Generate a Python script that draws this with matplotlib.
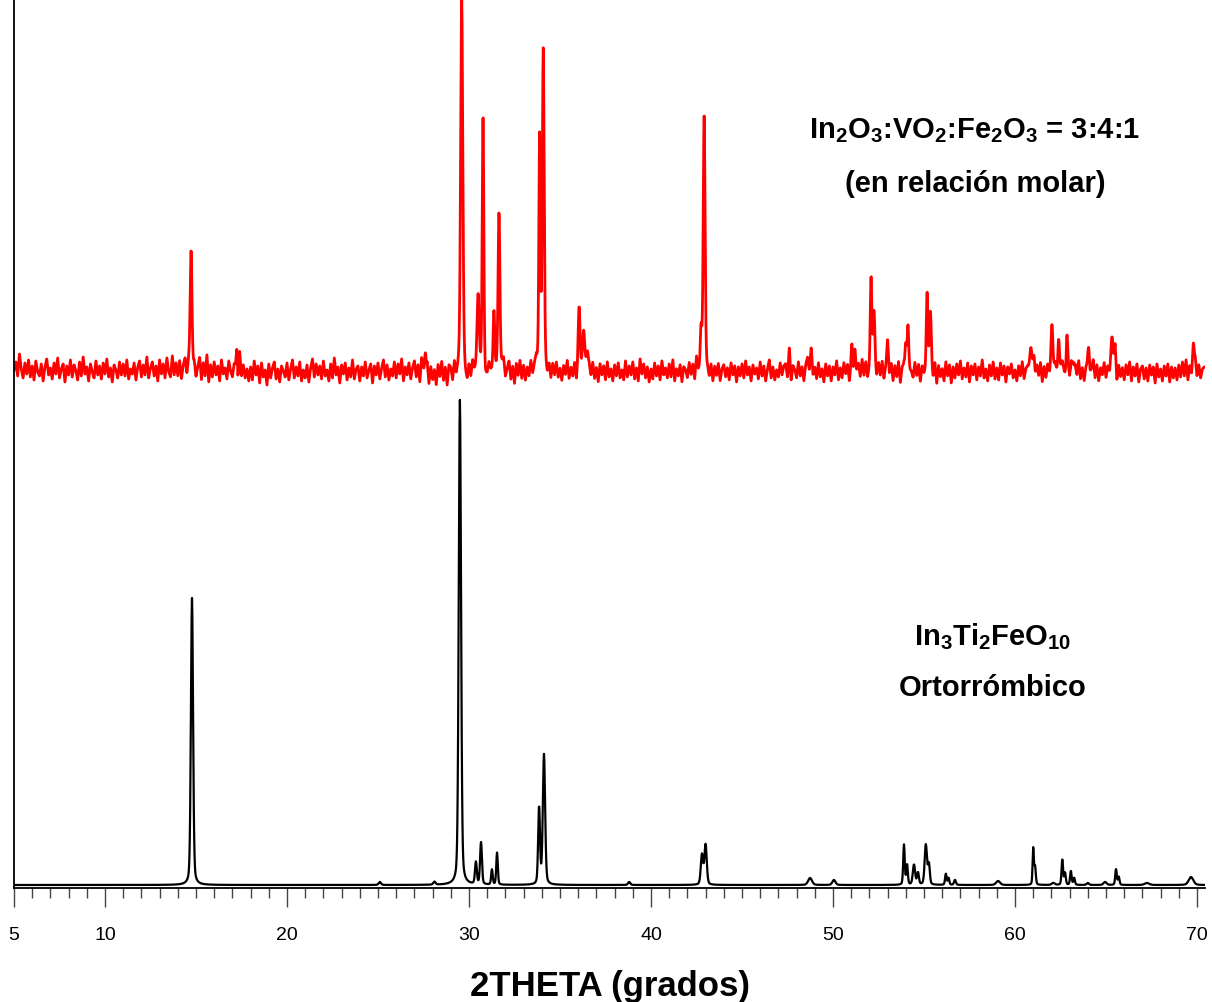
import numpy as np
import matplotlib
matplotlib.use("Agg")
import matplotlib.pyplot as plt
from matplotlib.ticker import FixedLocator, MultipleLocator

plt.rcParams['font.family'] = ['Liberation Sans', 'DejaVu Sans']
plt.rcParams['mathtext.fontset'] = 'custom'
plt.rcParams['mathtext.rm'] = 'Liberation Sans:bold'
plt.rcParams['mathtext.it'] = 'Liberation Sans:bold'
plt.rcParams['mathtext.bf'] = 'Liberation Sans:bold'

# peak tables: 2theta, height (a.u.), fwhm (deg)
black_pos = [14.78, 25.1, 28.1, 29.5, 30.38, 30.66, 31.26, 31.54, 33.85, 34.12,
             38.8, 42.8, 43.0, 48.74, 50.05, 53.9, 54.07, 54.45, 54.67, 55.1,
             55.27, 56.2, 56.35, 56.7, 59.07, 61.0, 61.1, 62.1, 62.6, 62.75,
             63.07, 63.25, 64.0, 64.95, 65.55, 65.7, 67.25, 69.67]
black_h = [287, 3, 3, 485, 22, 42, 15, 32, 77, 130,
           3, 30, 40, 7, 5, 40, 20, 20, 12, 40,
           20, 11, 7, 5, 4, 36, 18, 2, 25, 12,
           14, 7, 2, 3, 16, 8, 2, 8]
black_w = [0.14, 0.15, 0.15, 0.15, 0.12, 0.12, 0.1, 0.1, 0.12, 0.15,
           0.15, 0.15, 0.15, 0.25, 0.2, 0.1, 0.1, 0.15, 0.12, 0.15,
           0.12, 0.1, 0.1, 0.12, 0.25, 0.08, 0.1, 0.2, 0.1, 0.1,
           0.1, 0.1, 0.15, 0.2, 0.1, 0.1, 0.3, 0.3]
black_base = 3

red_pos = [14.73, 17.25, 27.6, 29.6, 30.5, 30.77, 31.37, 31.65, 33.88, 34.08,
           36.05, 36.3, 36.5, 42.75, 42.92, 47.6, 48.8, 51.04, 51.2, 52.09,
           52.25, 53.0, 54.0, 54.12, 55.17, 55.35, 60.88, 61.05, 62.03, 62.4,
           62.85, 63.2, 64.05, 65.33, 65.5, 69.8]
red_h = [124, 25, 25, 372, 75, 255, 60, 165, 232, 320,
         65, 40, 25, 40, 255, 20, 18, 28, 22, 95,
         60, 20, 35, 45, 80, 60, 28, 18, 48, 38,
         38, 18, 22, 35, 18, 20]
red_w = [0.12, 0.08, 0.08, 0.14, 0.14, 0.1, 0.1, 0.12, 0.1, 0.12,
         0.12, 0.15, 0.12, 0.1, 0.12, 0.1, 0.15, 0.1, 0.1, 0.1,
         0.12, 0.1, 0.1, 0.1, 0.1, 0.12, 0.15, 0.1, 0.12, 0.1,
         0.1, 0.1, 0.1, 0.15, 0.1, 0.1]
red_base = 516

# red background noise, one reading every 0.1 deg from 5.0 to 70.4
red_noise = [
    2, 10, -4, 18, 3, -6, 9, -2, 12, -5,
    6, -8, 11, 0, -4, 8, -9, 5, 13, -3,
    4, -7, 9, -2, 14, -6, 3, 8, -10, 6,
    -3, 12, -5, 7, 1, -8, 10, -4, 15, -2,
    5, -9, 8, 0, -6, 11, -3, 6, -7, 9,
    -2, 13, -5, 4, -10, 7, 2, -6, 10, -3,
    8, -4, 12, -7, 3, -2, 9, -8, 5, 11,
    -5, 7, -3, 15, -6, 4, 10, -4, 6, -9,
    12, -2, 8, -6, 14, 0, -5, 16, -3, 9,
    -4, 11, -7, 6, 13, -3, 9, 0, -2, 8,
    -6, 5, 14, -8, 9, -4, 17, -10, 7, -5,
    10, -3, 6, -9, 12, -2, 4, -7, 11, 1,
    -5, 8, 6, -12, 20, -4, 7, -6, 3, -9,
    5, -8, 11, -3, 6, -11, 9, -5, 2, -13,
    8, -6, 4, 10, -7, 3, -10, 6, 1, -5,
    9, -8, 3, 12, -6, 5, -4, 10, -9, 2,
    -6, 7, -10, 4, 13, -5, 8, -3, 6, -7,
    11, -4, 2, -9, 8, -6, 14, -3, 5, -11,
    7, -2, 9, -8, 4, -5, 12, -7, 3, 6,
    -9, 5, -4, 10, -6, 2, 8, -11, 6, -3,
    9, -7, 4, 12, -5, 7, -8, 3, -4, 10,
    -6, 8, -2, 13, -9, 5, -3, 9, -7, 4,
    11, -5, 7, -10, 14, 3, -6, 9, -12, 5,
    -8, 2, -13, 7, -5, 10, -9, 4, -14, 6,
    3, -10, 8, -6, 0, 0, 0, 0, -8, -12,
    4, -7, 9, 0, 0, 0, 0, 0, 6, -8,
    -5, 7, 0, 0, 0, 0, 0, -9, 5, 12,
    -6, 3, 10, -8, 5, -12, 8, -4, 11, -7,
    6, -9, 4, -5, 10, -3, 7, 12, 0, 0,
    0, 0, 0, -6, 5, -8, 7, -4, 9, -6,
    3, -9, 6, -3, 11, -7, 4, -5, 8, -10,
    0, 0, 0, 0, 0, -6, 5, -4, 9, -7,
    4, -10, 8, -3, 6, -8, 10, -5, 3, -9,
    7, -4, 9, -6, 2, -8, 11, -5, 6, -3,
    10, -7, 4, -9, 13, -2, 8, -6, 5, -10,
    3, -7, 9, -4, 6, -8, 11, -3, 4, -6,
    8, -5, 12, -9, 3, -4, 7, -10, 5, 2,
    -6, 9, -3, 7, -8, 14, 0, 0, 0, 0,
    0, 0, -7, 6, -10, 5, -4, 8, -9, 3,
    7, -5, 4, -8, 9, -3, 6, -10, 5, -4,
    8, -6, 11, -3, 5, -9, 7, -2, 4, -7,
    10, -4, 6, -9, 3, 12, -6, 5, -8, 2,
    -5, 9, -3, 6, 8, -7, 4, -10, 6, 2,
    -6, 10, -4, 5, -9, 7, 14, -3, 6, -8,
    4, -7, 9, -5, 3, -10, 8, -4, 6, -9,
    5, -3, 11, -8, 4, -6, 9, -2, 7, -10,
    3, -6, 0, 0, 8, -5, 12, -4, 9, -7,
    0, 0, 0, 0, -6, 8, -4, 10, -7, 5,
    12, -3, 8, -9, 6, -5, 10, -11, 4, 7,
    -8, 0, 0, 0, -6, 9, -4, 7, -10, 5,
    -3, 0, 0, 0, 0, -7, 8, -12, 6, -5,
    3, -9, 10, -4, 7, -11, 5, -6, 8, -3,
    11, -7, 4, -5, 9, -10, 6, -3, 8, -8,
    5, -4, 12, -6, 3, -9, 7, -4, 10, -7,
    4, -8, 9, -3, 6, -10, 5, -2, 8, -6,
    2, -9, 6, -4, 10, -7, 3, 5, 0, -5,
    0, -8, 6, -4, 9, -10, 5, -6, 7, -3,
    0, 0, 8, 0, -6, 4, 10, 0, -8, 5,
    -5, 9, -10, 6, -3, 11, -7, 4, -9, 5,
    8, -4, 3, 12, -6, 7, -9, 4, -3, 9,
    -6, 5, -4, 0, 0, 8, -10, 6, -5, 4,
    -8, 7, -3, 10, -9, 5, -4, 8, -10, 3,
    6, -7, 4, -9, 7, -3, 5, -11, 8, -5,
    3, -9, 6, -4, 8, -10, 5, -6, 4, -8,
    7, -5, 10, -4, 12, -8, 6, -3, 9, 14,
    -4, 7, -6, 3, 5,
]
noise_x = 5.0 + 0.1 * np.arange(len(red_noise))

x_ticks = [5, 10, 20, 30, 40, 50, 60, 70]


def pattern(x, pos, h, w, eta=0.3):
    y = np.zeros_like(x)
    for p, a, f in zip(pos, h, w):
        d = (x - p) / (f / 2)
        y += a * (eta / (1 + d ** 2) + (1 - eta) * np.exp(-np.log(2) * d ** 2))
    return y


tt = np.arange(5.0, 70.45, 0.02)
black = black_base + pattern(tt, black_pos, black_h, black_w)
red = red_base + pattern(tt, red_pos, red_h, red_w) + np.interp(tt, noise_x, red_noise)

W, H = 1212, 1002
fig = plt.figure(figsize=(W / 100, H / 100), dpi=100)
ax = fig.add_axes([14 / W, 114 / H, 1191 / W, 888 / H])
ax.plot(tt, red, color='#ff0000', lw=2.0)
ax.plot(tt, black, color='black', lw=1.6)

ax.set_xlim(5, 5 + 1191 / 18.2)
ax.set_ylim(0, 888)
for s in ['top', 'right']:
    ax.spines[s].set_visible(False)
ax.spines['left'].set_linewidth(1.3)
ax.spines['bottom'].set_linewidth(1.3)
ax.set_yticks([])
ax.xaxis.set_major_locator(FixedLocator(x_ticks))
ax.xaxis.set_minor_locator(MultipleLocator(1))
ax.tick_params(axis='x', which='major', direction='out', length=14, width=1,
               color='#444444', labelsize=14, pad=14)
ax.tick_params(axis='x', which='minor', direction='out', length=7, width=1,
               color='#444444')

fig.text(610 / W, 6 / H, '2THETA (grados)', fontsize=25, fontweight='bold',
         ha='center', va='baseline')

fig.text(975 / W, 1 - 131 / H, r'In$_2$O$_3$:VO$_2$:Fe$_2$O$_3$ = 3:4:1',
         fontsize=21, fontweight='bold', ha='center', va='center')
fig.text(975 / W, 1 - 184 / H, '(en relación molar)', fontsize=21, fontweight='bold',
         ha='center', va='center')
fig.text(993 / W, 1 - 637 / H, r'In$_3$Ti$_2$FeO$_{10}$', fontsize=21, fontweight='bold',
         ha='center', va='center')
fig.text(993 / W, 1 - 688 / H, 'Ortorrómbico', fontsize=21, fontweight='bold',
         ha='center', va='center')

fig.savefig('out.png', dpi=100)
